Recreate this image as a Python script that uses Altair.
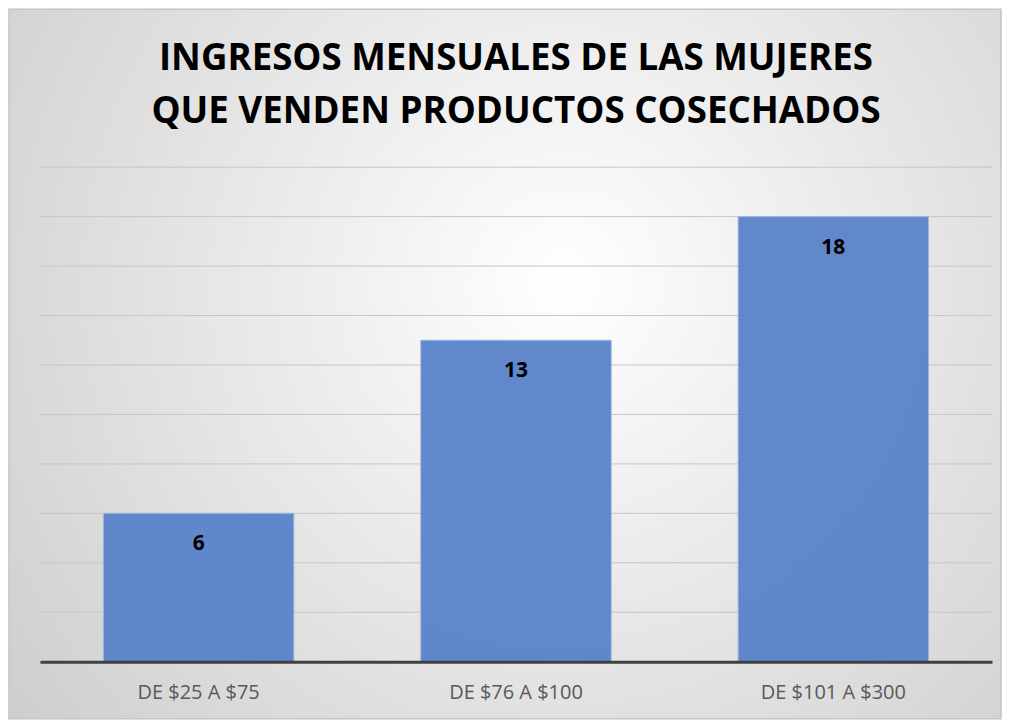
import altair as alt
import pandas as pd

categories = ["DE $25 A $75", "DE $76 A $100", "DE $101 A $300"]
values = [6, 13, 18]
grid_values = list(range(2, 21, 2))
title_lines = ["INGRESOS MENSUALES DE LAS MUJERES", "QUE VENDEN PRODUCTOS COSECHADOS"]

df = pd.DataFrame({"cat": categories, "val": values})
grid_df = pd.DataFrame({"g": grid_values})

W, H = 953, 495
PL, PT, PR, PB = 32, 159, 10, 58

bg_fill = alt.RadialGradient(
    gradient="radial",
    stops=[alt.GradientStop(offset=0, color="#ffffff"),
           alt.GradientStop(offset=1, color="#cdcdcd")],
    x1=0.56, y1=0.42, r1=0, x2=0.56, y2=0.42, r2=0.72,
)

bg = alt.Chart(alt.Data(values=[{"a": 1}])).mark_rect(
    fill=bg_fill, stroke="#c4c4c4", strokeWidth=1.5
).encode(
    x=alt.value(-PL + 1), x2=alt.value(W + PR - 1),
    y=alt.value(-PT + 1), y2=alt.value(H + PB - 1),
)

y_scale = alt.Scale(domain=[0, 20], nice=False)

grid = alt.Chart(grid_df).mark_rule(color="#c6c6c6", strokeWidth=1).encode(
    y=alt.Y("g:Q", scale=y_scale, axis=None),
    x=alt.value(0), x2=alt.value(W),
)

base = alt.Chart(df)

x_enc = alt.X("cat:N", sort=categories,
              scale=alt.Scale(paddingInner=0.4, paddingOuter=0.2),
              axis=alt.Axis(title=None, labelAngle=0, ticks=False,
                            domainColor="#404040", domainWidth=3,
                            labelFont="Open Sans", labelFontSize=20,
                            labelColor="#595959", labelPadding=21,
                            grid=False, zindex=2))
y_enc = alt.Y("val:Q", scale=y_scale, axis=None)

bars = base.mark_bar(color="#5A83CA", opacity=0.95, stroke="#9db4e0",
                     strokeWidth=1).encode(x=x_enc, y=y_enc)

labels = base.mark_text(font="Open Sans", fontWeight="bold", fontSize=21,
                        color="#000000", baseline="top", dy=20).encode(
    x=alt.X("cat:N", sort=categories), y="val:Q", text="val:Q")

chart = alt.layer(bg, grid, bars, labels).properties(
    width=W, height=H,
    autosize=alt.AutoSizeParams(type="none"),
    padding={"left": PL, "top": PT, "right": PR, "bottom": PB},
    title=alt.Title(title_lines, font="Open Sans", fontSize=36.7, fontWeight="bold",
                    color="#000000", anchor="middle", offset=-122, lineHeight=53,
                    zindex=3),
).configure_view(stroke=None).configure(background="#ffffff")

chart.save("out.html", embed_options={"renderer": "svg", "actions": False})
